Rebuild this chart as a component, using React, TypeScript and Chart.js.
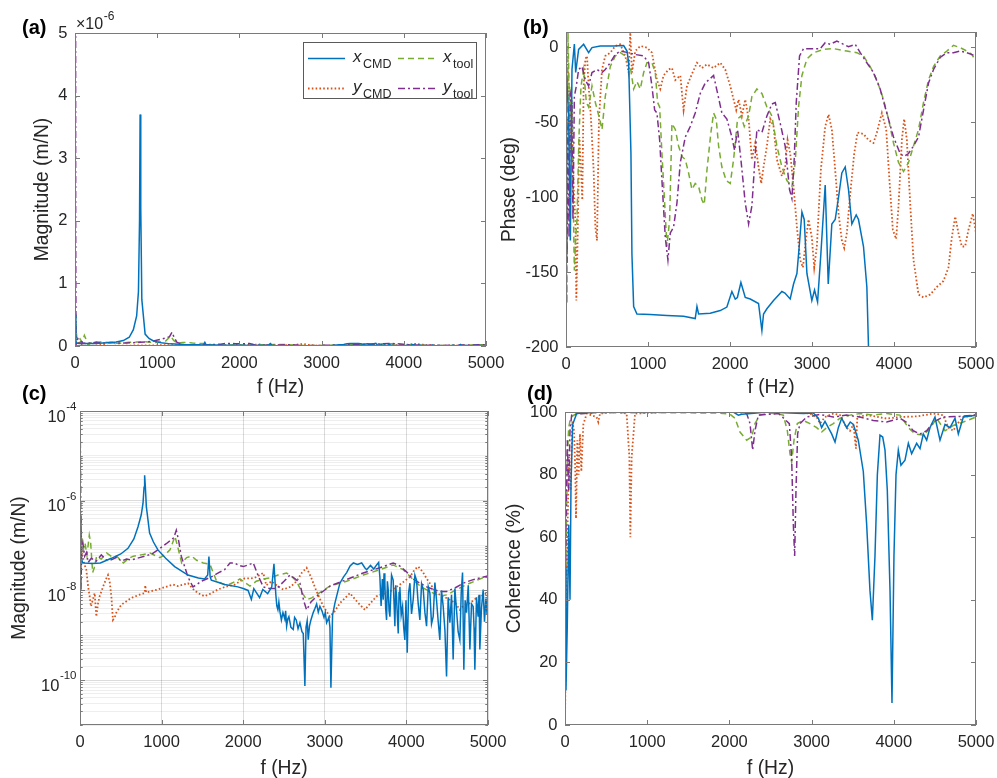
import React, { useEffect, useRef } from 'react';
import { Chart, registerables } from 'chart.js';

Chart.register(...registerables);

const FONT = '"Liberation Sans", Arial, Helvetica, sans-serif';
Chart.defaults.font.family = FONT;

const TXT = '#262626';
const AXIS = '#7a7a7a';
const TICK_FONT = 16.5;
const TITLE_FONT = 19.3;
const TICK_LEN = 5;

// ---------------- axis ticks ----------------
const freqTicks = [0, 1000, 2000, 3000, 4000, 5000];
const magLinTicks = [0, 1, 2, 3, 4, 5]; // x10^-6 m/N
const magLogDecades = [-11, -10, -9, -8, -7, -6, -5, -4];
const magLogLabelExps = [-10, -8, -6, -4];
const phaseTicks = [-200, -150, -100, -50, 0];
const cohTicks = [0, 20, 40, 60, 80, 100];

// ---------------- magnitude (m/N) ----------------
const magFreqXcmd = [0,10,30,57,150,250,384,500,588,660,710,750,772,785,792,800,813,853,900,955,1050,1160,1323,1450,1527,1565,1580,1595,1609,1700,1772,1935,2000,2060,2100,2130,2201,2240,2300,2350,
  2377,2400,2412,2425,2437,2450,2468,2487,2510,2520,2532,2546,2560,2585,2613,2630,2650,2672,2695,2720,2736,2756,2770,2784,2797,2812,2830,2858,2880,2900,2920,2940,2965,2990,3006,3022,3050,3063,3075,3095,3124,
  3185,3230,3268,3310,3350,3400,3452,3490,3513,3560,3600,3635,3660,
  3675,3690,3705,3716,3726,3736,3746,3757,3767,3777,3788,3798,3818,3838,3849,3859,3869,3879,3890,3900,3910,3920,3936,3953,3967,3981,3995,4010,4027,4043,4063,4083,4104,4124,4145,4165,4186,4206,4227,4247,4268,4288,4308,4328,4349,4369,4390,4410,4430,4451,4472,4492,4512,4533,4553,4573,4594,4614,4634,4655,4672,4688,4704,4720,4737,4758,4778,4798,4818,4829,4839,4859,4879,4890,4900,4920,4941,4957,4974,4988,5000];
const magXcmd = [5e-7,6e-8,4.2e-8,4.1e-8,4.0e-8,4.1e-8,5.2e-8,6.5e-8,8.7e-8,1.4e-7,2.6e-7,4.8e-7,8.7e-7,2.0e-6,3.7e-6,2.2e-6,7.4e-7,1.9e-7,1.2e-7,8e-8,5.2e-8,3.4e-8,2.2e-8,1.9e-8,1.8e-8,2.2e-8,5.7e-8,2.0e-8,1.7e-8,1.5e-8,1.35e-8,1.2e-8,1.1e-8,1.0e-8,6.3e-9,1.1e-8,6.9e-9,1.05e-8,8.5e-9,1.2e-8,
  3.9e-8,8e-9,4.5e-9,3.7e-9,5.5e-9,3.4e-9,2.2e-9,3.2e-9,2.3e-9,3.5e-9,1.6e-9,2.3e-9,2.6e-9,1.5e-9,1.35e-9,2.5e-9,2.2e-9,1.4e-9,1.9e-9,1.2e-9,1.1e-9,7.4e-11,1.5e-9,2.1e-9,8e-10,1.6e-9,2.2e-9,3.2e-9,4e-9,5e-9,3.3e-9,4.4e-9,3.5e-9,2.5e-9,3.2e-9,1.9e-9,2.5e-9,1.5e-9,6.8e-11,2.8e-9,5.2e-9,
  1.45e-8,2.0e-8,2.5e-8,3.5e-8,4.1e-8,3.8e-8,4.1e-8,3.2e-8,2.9e-8,3.6e-8,3.0e-8,3.7e-8,4.2e-8,
  2.0e-8,4.5e-9,1.8e-8,6.2e-9,2.4e-8,1.45e-8,4e-9,2.2e-9,1.6e-8,1.05e-8,3.5e-9,2.6e-9,2.2e-8,1.7e-8,5e-9,1.6e-9,1.3e-8,7.4e-9,2.5e-9,1.1e-9,9e-9,1.2e-8,2.8e-9,4.4e-9,1.5e-9,7.9e-10,6e-9,4.1e-10,9e-9,1.45e-8,3e-9,6.2e-9,2.2e-8,1.7e-8,5e-9,2.2e-9,1.4e-8,1.05e-8,3.2e-9,1.6e-9,1.2e-8,8.7e-9,1.8e-9,2.6e-9,1.5e-8,6.2e-9,2e-9,7.9e-10,1e-8,4.4e-9,1.3e-9,1.2e-10,7e-9,1.9e-9,8e-9,2.9e-10,1.1e-8,3.7e-9,1.2e-9,7.9e-10,9e-9,2.5e-8,1.7e-10,6e-9,3.2e-9,1.3e-8,4.8e-10,5e-9,4.4e-9,1.5e-9,1.7e-10,7e-9,2.6e-9,8e-9,4.8e-10,4e-9,1.05e-8,2e-9,6.6e-9,3e-9,1.2e-8];

const magFreqYcmd = [0,15,30,50,77,100,118,135,160,180,200,220,241,282,320,343,365,384,404,425,445,506,629,750,792,800,810,955,1050,1139,1200,1323,1380,1446,1527,1600,1691,1780,1895,2017,2083,2140,2200,2246,2283,2348,2420,2491,2580,2654,2720,2777,2830,2899,2980,3063,3120,3185,3308,3400,3451,3492,3560,3634,3798,3920,4043,4100,4144,4200,4247,4369,4450,4533,4600,4655,4700,4778,4850,4950,5000];
const magYcmd = [5.4e-7,1.5e-7,6e-8,4e-8,2.9e-8,1.2e-8,7.4e-9,4.4e-9,6.5e-9,8.7e-9,2.6e-9,5e-9,7.4e-9,1.2e-8,1.8e-8,2.2e-8,1.5e-8,7.4e-9,2.2e-9,2.5e-9,3.2e-9,4.8e-9,6.8e-9,8.3e-9,8.7e-9,1.3e-8,9e-9,1.05e-8,1.2e-8,1.35e-8,1.25e-8,1.45e-8,1.1e-8,8.7e-9,7.4e-9,8.5e-9,1.05e-8,1.2e-8,1.35e-8,1.85e-8,1.85e-8,1.9e-8,2.2e-8,2.45e-8,1.3e-8,1.6e-8,1.25e-8,1.05e-8,1.2e-8,1.6e-8,2.5e-8,3.2e-8,2.0e-8,9.5e-9,4.5e-9,2.6e-9,3.4e-9,5.2e-9,8.7e-9,5.5e-9,4.4e-9,3.7e-9,5.2e-9,7.4e-9,9.5e-9,1.35e-8,2.0e-8,2.9e-8,3.4e-8,2.6e-8,1.85e-8,8.7e-9,7.4e-9,6.2e-9,5.2e-9,3.7e-9,4.6e-9,5.2e-9,6.6e-9,8e-9,9e-9];

const magFreqXtool = [0,20,40,61,85,114,130,155,175,204,260,327,400,449,531,600,653,750,858,920,980,1050,1103,1164,1200,1246,1307,1370,1429,1511,1593,1675,1750,1797,1878,1960,2020,2083,2160,2246,2330,2426,2532,2600,2654,2720,2777,2840,2899,3063,3267,3471,3675,3838,3961,4050,4124,4200,4288,4410,4500,4573,4680,4778,4900,5000];
const magXtool = [6.8e-7,1.5e-7,8e-8,1.15e-7,6e-8,1.7e-7,1.2e-7,2.5e-8,3.2e-8,5.8e-8,5e-8,6.8e-8,5.5e-8,5.8e-8,4.1e-8,5.2e-8,5.8e-8,6.2e-8,6.8e-8,6e-8,5.4e-8,6.5e-8,8e-8,1.6e-7,9e-8,4.1e-8,5.4e-8,5.8e-8,4.7e-8,4.1e-8,3.8e-8,1.6e-8,1.4e-8,1.3e-8,1.5e-8,1.8e-8,1.5e-8,1.25e-8,1.6e-8,1.8e-8,1.9e-8,2.2e-8,2.45e-8,2.0e-8,1.6e-8,9e-9,6.2e-9,6.8e-9,8e-9,1.25e-8,1.6e-8,2.2e-8,2.9e-8,3.7e-8,2.9e-8,2.0e-8,1.45e-8,1.15e-8,9.5e-9,7.4e-9,8e-9,9.5e-9,1.2e-8,1.45e-8,1.8e-8,2.1e-8];

const magFreqYtool = [0,4,8,12,20,35,57,80,100,139,200,261,320,384,450,506,570,629,700,792,880,955,1057,1119,1150,1180,1205,1241,1323,1384,1430,1486,1550,1609,1700,1772,1838,1895,1950,2001,2060,2123,2180,2246,2323,2409,2500,2573,2640,2695,2740,2777,2830,2899,3063,3267,3471,3675,3838,3920,4001,4080,4165,4250,4328,4410,4492,4600,4696,4800,4900,5000];
const magYtool = [1e-4,2e-5,2e-6,1e-8,8e-8,1.15e-7,5.8e-8,7e-8,4.2e-8,5.2e-8,4.5e-8,6.2e-8,4.8e-8,4.8e-8,5.5e-8,4.5e-8,5e-8,4.8e-8,5.2e-8,5.8e-8,6.5e-8,8e-8,1.1e-7,1.35e-7,1.5e-7,2.2e-7,1.4e-7,5.8e-8,2.0e-8,1.2e-8,1.35e-8,1.6e-8,1.8e-8,2.0e-8,2.5e-8,2.9e-8,4.1e-8,4.1e-8,3.6e-8,3.4e-8,3.7e-8,4.1e-8,2.2e-8,1.2e-8,1.1e-8,1.1e-8,1.6e-8,2.2e-8,1.8e-8,1.45e-8,6e-9,3.7e-9,5.5e-9,7.4e-9,1.25e-8,1.75e-8,2.45e-8,3.2e-8,4.1e-8,3.5e-8,2.6e-8,1.8e-8,1.45e-8,1.2e-8,1.05e-8,9.5e-9,9.5e-9,1.15e-8,1.45e-8,1.7e-8,1.9e-8,2.1e-8];

// ---------------- phase (deg) ----------------
const phaseFreqXcmd = [0,33,53,73,102,118,154,215,276,317,418,581,703,744,764,792,804,825,865,1028,1231,1434,1576,1597,1617,1759,1881,1962,2023,2064,2090,2133,2186,2247,2348,2389,2409,2450,2531,2633,2670,2734,2775,2816,2844,2877,2905,2938,2998,3031,3068,3108,3161,3198,3242,3283,3324,3364,3405,3445,3486,3539,3567,3628,3669,3689,3710];
const phaseXcmd = [-10,-48,-129,-15,2,-17,-1.6,1.8,-3.8,-0.4,0.7,0.7,1,-2.7,-10.5,-71,-138,-173,-178,-178.3,-179,-179.5,-181,-173,-178,-177.5,-175.7,-173.4,-163,-168,-167,-157,-167,-168,-171,-189,-178,-174.5,-169,-163,-164,-168,-158,-151,-133,-110,-115,-151,-169,-162,-170,-138,-92,-158,-118,-115,-100,-84,-80,-95,-118,-112,-115,-133,-160,-200,-240];

const phaseFreqYcmd = [0,12,33,53,73,93,114,126,142,163,183,199,215,236,256,276,305,337,358,378,402,439,479,540,601,662,723,764,784,804,845,906,987,1048,1109,1150,1190,1251,1292,1333,1394,1434,1475,1536,1597,1658,1719,1800,1881,1942,2003,2044,2076,2105,2145,2186,2227,2267,2308,2348,2381,2409,2450,2491,2531,2572,2633,2673,2702,2734,2775,2816,2856,2889,2929,2958,2998,3027,3059,3108,3161,3202,3242,3283,3324,3364,3393,3425,3466,3515,3555,3628,3689,3750,3791,3852,3905,3945,3986,4026,4055,4096,4124,4157,4197,4238,4299,4360,4441,4522,4603,4664,4705,4746,4786,4827,4867,4908,4961,5000];
const phaseYcmd = [-5,0.7,-26,-71,-37,-93,-115,-169,-127,-60,-82,-102,-26,-8,-6,-26,-48,-82,-120,-129,-48,-15,-6,-3.8,0.7,1.8,-6,-17,9.6,-17,-2.7,0.7,-0.4,-3.8,-22,-28,-19,-15,-14,-22,-19,-42,-26,-18,-10.5,-14,-11.6,-14,-10.5,-15,-26,-35,-42,-35,-46,-35,-48,-75,-64,-80,-91,-80,-66,-48,-53,-75,-86,-80,-62,-71,-93,-120,-142,-147,-127,-115,-127,-147,-133,-82,-53,-45,-55,-82,-111,-129,-134,-124,-98,-71,-57,-58,-62,-64,-57,-44,-55,-89,-122,-128,-106,-62,-48,-62,-104,-142,-165,-167,-165,-160,-156,-147,-127,-113,-124,-133,-133,-122,-111,-124];

const phaseFreqXtool = [0,12,24,45,65,85,102,118,134,158,183,215,248,276,317,358,410,439,479,540,601,662,723,784,825,865,906,947,987,1048,1089,1117,1142,1170,1203,1231,1264,1292,1333,1373,1414,1455,1495,1536,1576,1617,1658,1686,1719,1767,1800,1832,1861,1901,1954,2003,2044,2092,2133,2174,2227,2267,2328,2389,2450,2511,2572,2633,2694,2755,2795,2836,2877,2938,3019,3141,3263,3425,3547,3628,3709,3791,3872,3933,3994,4055,4116,4177,4238,4299,4360,4421,4482,4563,4644,4725,4807,4888,4949,5000];
const phaseXtool = [15,-171,9.6,-48,-26,-93,-149,-127,-115,-60,-26,-15,-37,-40,-26,-37,-48,-55,-33,-13,-6,-3.8,-6,-13,-28,-23,-28,-17,-10.5,-10.5,-17,-37,-40,-71,-104,-133,-115,-51,-55,-66,-73,-75,-84,-95,-91,-93,-102,-105,-82,-57,-44,-48,-66,-80,-89,-91,-75,-48,-46,-53,-46,-33,-28,-31,-40,-46,-66,-80,-89,-93,-77,-40,-19,-8,-3.8,-1.6,-1.1,-2.7,-3.8,-6,-13,-22,-35,-48,-64,-77,-83,-77,-66,-55,-37,-22,-13,-6,-2.7,1.1,-0.4,-2.7,-5,-9.4];

const phaseFreqYtool = [4,12,24,37,53,69,85,102,126,154,195,236,276,317,378,439,479,540,601,662,764,845,947,1008,1048,1081,1109,1142,1170,1211,1243,1272,1312,1353,1394,1455,1515,1576,1637,1698,1800,1849,1901,1962,2023,2056,2092,2133,2186,2227,2267,2328,2389,2450,2511,2552,2613,2673,2726,2755,2783,2808,2848,2897,3019,3100,3161,3222,3303,3384,3445,3527,3588,3669,3750,3831,3912,3994,4075,4124,4177,4238,4299,4360,4421,4482,4563,4644,4725,4807,4888,5000];
const phaseYtool = [-93,-144,-48,-127,-31,-35,-115,-33,-26,-15,-13,-22,-26,-17,-15,-17,-15,-10.5,-5,-2.7,-3.8,-5,-6,-10.5,-26,-42,-44,-62,-89,-127,-142,-124,-120,-104,-77,-60,-53,-44,-31,-24,-19,-31,-44,-48,-60,-69,-55,-75,-104,-118,-106,-55,-57,-46,-38,-37,-51,-66,-95,-101,-75,-37,-6,-1.1,-1.1,-1.1,2.9,1.8,4,1.8,0.2,1.8,-3.8,-10.5,-17,-28,-44,-60,-71,-73,-71,-66,-60,-42,-24,-15,-7,-3.8,-3.8,-2.7,-3.8,-6];

// ---------------- coherence (%) ----------------
const cohFreqXcmd = [0,12,28,45,61,73,93,142,426,2048,2109,2150,2300,2450,2737,2900,3021,3082,3122,3163,3203,3244,3285,3325,3366,3426,3470,3508,3568,3629,3670,3710,3739,3771,3800,3832,3865,3893,3921,3954,3978,4002,4027,4055,4087,4136,4177,4217,4278,4319,4359,4400,4440,4501,4562,4623,4684,4745,4785,4846,5000];
const cohXcmd = [50.5,11,32,64,40,77,96,99.5,100,100,99,99.3,99.6,100,99.7,99.5,99.7,98,95,97,95,93,90.4,95,98,95,96.8,96,91,81,64,43,33.5,54,80,92.6,92,87.8,75,43,7,54,80,87.8,83,84.6,90,86.7,90,88.3,93,91,95,98.4,91,96,95,98,93,98.4,99];

const cohFreqYcmd = [0,12,28,49,69,89,110,126,134,150,166,182,199,223,264,385,405,426,628,750,783,795,811,852,1237,2859,2980,3062,3102,3163,3264,3345,3426,3467,3508,3540,3556,3670,3790,3913,4075,4280,4481,4600,4663,4724,4765,4846,5000];
const cohYcmd = [0.5,32,60,85.6,75,97,94,80,66,91,80,93,81,96,99.5,98.4,96.8,99.5,100,99.5,85.6,60,85.6,99.5,100,100,99.5,98.4,96.3,98.4,99.5,99,95,94,96,88.3,98.4,99,98.5,97.9,98.4,98.6,99.5,99,95,94,96,98.4,99];

const cohFreqXtool = [0,12,28,45,69,142,426,1845,2007,2068,2129,2210,2271,2311,2372,2500,2656,2705,2737,2757,2786,2826,2899,2980,3062,3122,3183,3264,3345,3467,3589,3750,3913,4075,4177,4258,4359,4440,4521,4623,4724,4846,5000];
const cohXtool = [6,53.7,85.6,95,98.4,99.5,99.8,99.7,99.3,98,93.6,91,92,96.3,99,99.7,99,94,86.7,84,91,96.3,97.3,96.3,95,93.6,95,96.3,98,99,99.5,99,99.5,99,95,93,92.6,94.7,98,94,95.7,96.8,98.4];

const cohFreqYtool = [0,12,28,45,61,81,142,426,2100,2210,2251,2283,2311,2352,2600,2729,2757,2778,2794,2810,2830,2859,2940,3100,3264,3426,3589,3751,3913,4075,4150,4237,4319,4400,4481,4600,4800,5000];
const cohYtool = [14,64,91,75,94,99,99.3,100,100,99.5,96.3,87.8,94,99,99.5,96.3,85.6,64,54,75,93,96.3,98.4,99.2,98.4,99,98.4,97.3,96.8,98,96.8,94,93,94,96.8,98.4,98.6,99];

// ---------------- styles ----------------
type Style = { color: string; dash: number[]; width: number; sym: string; sub: string };
const STYLES: Record<string, Style> = {
  xCMD: { color: '#0072BD', dash: [], width: 1.5, sym: 'x', sub: 'CMD' },
  yCMD: { color: '#D95319', dash: [1.6, 2.2], width: 1.8, sym: 'y', sub: 'CMD' },
  xtool: { color: '#77AC30', dash: [6, 4], width: 1.5, sym: 'x', sub: 'tool' },
  ytool: { color: '#7E2F8E', dash: [7, 3, 2, 3], width: 1.5, sym: 'y', sub: 'tool' },
};
// drawing order: index 0 is drawn on top
const DRAW_ORDER = ['xCMD', 'ytool', 'xtool', 'yCMD'];

type SeriesData = Record<string, { f: number[]; v: number[] }>;
const MAG: SeriesData = {
  xCMD: { f: magFreqXcmd, v: magXcmd },
  yCMD: { f: magFreqYcmd, v: magYcmd },
  xtool: { f: magFreqXtool, v: magXtool },
  ytool: { f: magFreqYtool, v: magYtool },
};
const PHASE: SeriesData = {
  xCMD: { f: phaseFreqXcmd, v: phaseXcmd },
  yCMD: { f: phaseFreqYcmd, v: phaseYcmd },
  xtool: { f: phaseFreqXtool, v: phaseXtool },
  ytool: { f: phaseFreqYtool, v: phaseYtool },
};
const COH: SeriesData = {
  xCMD: { f: cohFreqXcmd, v: cohXcmd },
  yCMD: { f: cohFreqYcmd, v: cohYcmd },
  xtool: { f: cohFreqXtool, v: cohXtool },
  ytool: { f: cohFreqYtool, v: cohYtool },
};

const isPow10 = (v: number) => Math.abs(Math.log10(v) - Math.round(Math.log10(v))) < 1e-6;
const isLabelledDecade = (v: number) => isPow10(v) && magLogLabelExps.includes(Math.round(Math.log10(v)));

const logTicks: number[] = [];
magLogDecades.forEach((e, i) => {
  if (i === magLogDecades.length - 1) logTicks.push(Math.pow(10, e));
  else for (let m = 1; m <= 9; m++) logTicks.push(m * Math.pow(10, e));
});

interface PanelCfg {
  id: string;
  left: number; top: number; width: number; height: number;
  area: { left: number; top: number; right: number; bottom: number };
  yType: 'linear' | 'logarithmic';
  yMin: number; yMax: number;
  yTicks: number[];
  yLabel: (v: number) => string;
  yMajor: (v: number) => boolean;
  yTitle: string; yTitleX: number; xTitleY: number;
  yTickPad: number;
  series: SeriesData;
  grid: boolean;
  legend: boolean; exponent: boolean; powerLabels: boolean;
}

const PANELS: PanelCfg[] = [
  {
    id: 'a', left: 0, top: 0, width: 512, height: 400,
    area: { left: 75, top: 33, right: 486, bottom: 346 },
    yType: 'linear', yMin: 0, yMax: 5e-6,
    yTicks: magLinTicks.map((t) => t * 1e-6),
    yLabel: (v) => String(Math.round(v / 1e-6)),
    yMajor: () => true,
    yTitle: 'Magnitude (m/N)', yTitleX: 43, xTitleY: 388,
    yTickPad: 7.5,
    series: MAG, grid: false, legend: true, exponent: true, powerLabels: false,
  },
  {
    id: 'b', left: 497, top: 0, width: 500, height: 400,
    area: { left: 69, top: 32, right: 479, bottom: 347 },
    yType: 'linear', yMin: -200, yMax: 10,
    yTicks: phaseTicks,
    yLabel: (v) => String(v),
    yMajor: () => true,
    yTitle: 'Phase (deg)', yTitleX: 12.5, xTitleY: 388,
    yTickPad: 7.5,
    series: PHASE, grid: false, legend: false, exponent: false, powerLabels: false,
  },
  {
    id: 'c', left: 0, top: 400, width: 512, height: 390,
    area: { left: 80, top: 11, right: 488, bottom: 325 },
    yType: 'logarithmic', yMin: 1e-11, yMax: 1e-4,
    yTicks: logTicks,
    yLabel: () => '',
    yMajor: (v) => isLabelledDecade(v),
    yTitle: 'Magnitude (m/N)', yTitleX: 20, xTitleY: 369,
    yTickPad: 3.5,
    series: MAG, grid: true, legend: false, exponent: false, powerLabels: true,
  },
  {
    id: 'd', left: 497, top: 400, width: 500, height: 390,
    area: { left: 68, top: 12, right: 479, bottom: 325 },
    yType: 'linear', yMin: 0, yMax: 100,
    yTicks: cohTicks,
    yLabel: (v) => String(v),
    yMajor: () => true,
    yTitle: 'Coherence (%)', yTitleX: 17.5, xTitleY: 369,
    yTickPad: 7.5,
    series: COH, grid: false, legend: false, exponent: false, powerLabels: false,
  },
];

const LEGEND_ROWS = [
  ['xCMD', 'xtool'],
  ['yCMD', 'ytool'],
];

function makePlugin(p: PanelCfg) {
  return {
    id: 'matlabAxes' + p.id,
    afterDatasetsDraw(chart: any) {
      const { ctx, chartArea: a } = chart;
      const xs = chart.scales.x;
      const ys = chart.scales.y;
      ctx.save();
      ctx.setLineDash([]);
      ctx.strokeStyle = AXIS;
      ctx.lineWidth = 1;
      ctx.beginPath();
      xs.ticks.forEach((t: any) => {
        const px = Math.round(xs.getPixelForValue(t.value)) + 0.5;
        ctx.moveTo(px, a.bottom);
        ctx.lineTo(px, a.bottom - TICK_LEN);
        ctx.moveTo(px, a.top);
        ctx.lineTo(px, a.top + TICK_LEN);
      });
      ys.ticks.forEach((t: any) => {
        const len = p.yMajor(t.value) ? TICK_LEN : TICK_LEN * 0.55;
        const py = Math.round(ys.getPixelForValue(t.value)) + 0.5;
        ctx.moveTo(a.left, py);
        ctx.lineTo(a.left + len, py);
        ctx.moveTo(a.right, py);
        ctx.lineTo(a.right - len, py);
      });
      ctx.stroke();
      const l = Math.round(a.left) + 0.5;
      const t = Math.round(a.top) + 0.5;
      const r = Math.round(a.right) - 0.5;
      const b = Math.round(a.bottom) - 0.5;
      ctx.strokeRect(l, t, r - l, b - t);

      ctx.fillStyle = TXT;
      if (p.powerLabels) {
        magLogLabelExps.forEach((e) => {
          const py = ys.getPixelForValue(Math.pow(10, e));
          const expText = String(e);
          ctx.textBaseline = 'middle';
          ctx.textAlign = 'right';
          ctx.font = `11.5px ${FONT}`;
          const xr = a.left - p.yTickPad;
          ctx.fillText(expText, xr, py - 4);
          const ew = ctx.measureText(expText).width;
          ctx.font = `${TICK_FONT}px ${FONT}`;
          ctx.fillText('10', xr - ew - 0.5, py + 6);
        });
      }

      if (p.exponent) {
        ctx.textBaseline = 'alphabetic';
        ctx.textAlign = 'left';
        ctx.font = `16px ${FONT}`;
        const base = '\u00D710';
        ctx.fillText(base, a.left + 1, a.top - 4);
        const w = ctx.measureText(base).width;
        ctx.font = `12px ${FONT}`;
        ctx.fillText('-6', a.left + 1 + w + 0.5, a.top - 13);
      }

      if (p.legend) {
        const box = { left: 303, top: 42, right: 476, bottom: 98 };
        ctx.fillStyle = '#ffffff';
        ctx.fillRect(box.left, box.top, box.right - box.left, box.bottom - box.top);
        ctx.strokeStyle = '#5a5a5a';
        ctx.lineWidth = 1;
        ctx.strokeRect(box.left + 0.5, box.top + 0.5, box.right - box.left, box.bottom - box.top);
        const rowY = [58.5, 88.5];
        const colX = [308, 398];
        LEGEND_ROWS.forEach((row, ri) => {
          row.forEach((key, ci) => {
            const s = STYLES[key];
            const x0 = colX[ci];
            const y0 = rowY[ri];
            ctx.save();
            ctx.strokeStyle = s.color;
            ctx.lineWidth = s.width;
            ctx.setLineDash(s.dash);
            ctx.beginPath();
            ctx.moveTo(x0, y0);
            ctx.lineTo(x0 + 37, y0);
            ctx.stroke();
            ctx.restore();
            ctx.fillStyle = TXT;
            ctx.textAlign = 'left';
            ctx.textBaseline = 'alphabetic';
            ctx.font = `italic 17px ${FONT}`;
            ctx.fillText(s.sym, x0 + 45, y0 + 3);
            const w = ctx.measureText(s.sym).width;
            ctx.font = `12.5px ${FONT}`;
            ctx.fillText(s.sub, x0 + 45 + w + 1.5, y0 + 9.5);
          });
        });
      }
      ctx.restore();
    },
  };
}

function buildConfig(p: PanelCfg): any {
  const A = p.area;
  const datasets = DRAW_ORDER.map((key) => {
    const s = STYLES[key];
    const d = p.series[key];
    return {
      label: key,
      data: d.f.map((f, i) => ({ x: f, y: d.v[i] })),
      borderColor: s.color,
      backgroundColor: s.color,
      borderWidth: s.width,
      borderDash: s.dash,
      pointRadius: 0,
      pointHoverRadius: 0,
      fill: false,
      tension: 0,
    };
  });
  const gridColor = 'rgba(0,0,0,0.14)';
  const minorGridColor = 'rgba(0,0,0,0.065)';
  const tickFont = { family: FONT, size: TICK_FONT };
  const titleFont = { family: FONT, size: TITLE_FONT };
  const halfTitle = (TITLE_FONT * 1.2) / 2;
  return {
    type: 'line',
    data: { datasets },
    options: {
      animation: false,
      responsive: false,
      maintainAspectRatio: false,
      events: [],
      layout: { padding: { left: 0, top: A.top, right: p.width - A.right, bottom: 0 } },
      plugins: { legend: { display: false }, tooltip: { enabled: false }, title: { display: false } },
      elements: { point: { radius: 0 }, line: { tension: 0 } },
      scales: {
        x: {
          type: 'linear',
          min: 0,
          max: 5000,
          afterFit: (s: any) => {
            s.height = p.height - A.bottom;
            s.paddingLeft = 0;
            s.paddingRight = 0;
          },
          afterBuildTicks: (s: any) => {
            s.ticks = freqTicks.map((v) => ({ value: v }));
          },
          ticks: {
            color: TXT,
            font: tickFont,
            padding: 8,
            maxRotation: 0,
            autoSkip: false,
            callback: (v: any) => String(v),
          },
          grid: {
            display: p.grid,
            drawOnChartArea: true,
            drawTicks: false,
            color: gridColor,
            lineWidth: 1,
          },
          border: { display: false },
          title: {
            display: true,
            text: 'f (Hz)',
            color: TXT,
            font: titleFont,
            padding: { top: 0, bottom: p.height - p.xTitleY - halfTitle },
          },
        },
        y: {
          type: p.yType,
          min: p.yMin,
          max: p.yMax,
          afterFit: (s: any) => {
            s.width = A.left;
            s.paddingTop = 0;
            s.paddingBottom = 0;
          },
          afterBuildTicks: (s: any) => {
            s.ticks = p.yTicks.map((v) => ({ value: v }));
          },
          ticks: {
            color: TXT,
            font: tickFont,
            padding: p.yTickPad,
            autoSkip: false,
            callback: (v: any) => p.yLabel(Number(v)),
          },
          grid: {
            display: p.grid,
            drawOnChartArea: true,
            drawTicks: false,
            color: (ctx: any) => (ctx.tick && p.yMajor(ctx.tick.value) ? gridColor : minorGridColor),
            lineWidth: 1,
          },
          border: { display: false },
          title: {
            display: true,
            text: p.yTitle,
            color: TXT,
            font: titleFont,
            padding: { top: p.yTitleX - halfTitle, bottom: 0 },
          },
        },
      },
    },
    plugins: [makePlugin(p)],
  };
}

function Panel({ cfg }: { cfg: PanelCfg }) {
  const ref = useRef<HTMLCanvasElement>(null);
  useEffect(() => {
    if (!ref.current) return;
    const chart = new Chart(ref.current, buildConfig(cfg));
    return () => chart.destroy();
  }, [cfg]);
  return (
    <canvas
      ref={ref}
      width={cfg.width}
      height={cfg.height}
      style={{ position: 'absolute', left: cfg.left, top: cfg.top, width: cfg.width, height: cfg.height }}
    />
  );
}

const PANEL_LABELS = [
  { text: '(a)', x: 22, y: 26.5 },
  { text: '(b)', x: 523, y: 27 },
  { text: '(c)', x: 22, y: 393 },
  { text: '(d)', x: 527, y: 393 },
];

export default function App() {
  return (
    <div
      style={{
        position: 'fixed',
        left: 0,
        top: 0,
        width: 997,
        height: 778,
        overflow: 'hidden',
        background: '#ffffff',
      }}
    >
      {PANELS.map((p) => (
        <Panel key={p.id} cfg={p} />
      ))}
      {PANEL_LABELS.map((l) => (
        <div
          key={l.text}
          style={{
            position: 'absolute',
            left: l.x,
            top: l.y - 10,
            height: 20,
            lineHeight: '20px',
            fontFamily: FONT,
            fontWeight: 700,
            fontSize: 20,
            color: '#000',
            whiteSpace: 'nowrap',
          }}
        >
          {l.text}
        </div>
      ))}
    </div>
  );
}
